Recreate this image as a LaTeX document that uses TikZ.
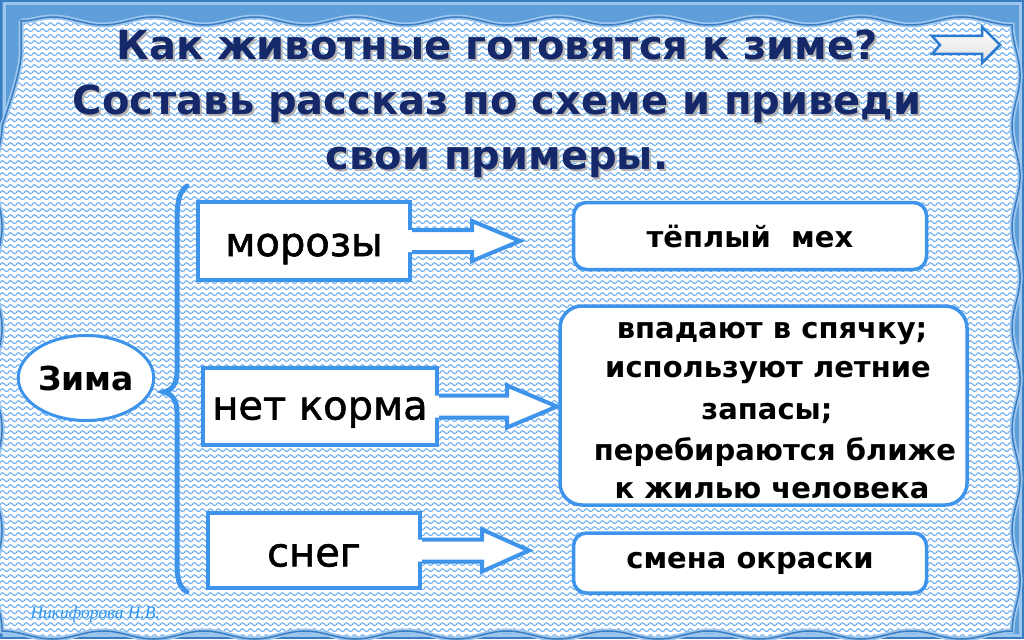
\documentclass[tikz,border=0pt]{standalone}
\usepackage{fontspec}
\setmainfont{DejaVu Sans}
\newfontfamily\sigfont{Liberation Serif}
\usetikzlibrary{patterns,decorations.pathmorphing,shapes.geometric,calc}
\definecolor{frameblue}{HTML}{5E9FDA}
\definecolor{frameedge}{HTML}{3A7DC2}
\definecolor{framelight}{HTML}{9CC6EE}
\definecolor{boxblue}{HTML}{3E93EA}
\definecolor{titlenavy}{HTML}{15296A}
\definecolor{patblue}{HTML}{5AA5F0}
\definecolor{sigblue}{HTML}{2E95F0}
\definecolor{arrowedge}{HTML}{2B7BD0}
\pgfdeclarepatternformonly{scallops}{\pgfpoint{-1pt}{-1pt}}{\pgfpoint{9pt}{7pt}}{\pgfpoint{8pt}{6pt}}{%
  \pgfsetlinewidth{0.9pt}%
  \pgfpathmoveto{\pgfpoint{0pt}{2pt}}%
  \pgfpathcurveto{\pgfpoint{1.5pt}{5pt}}{\pgfpoint{3.5pt}{5pt}}{\pgfpoint{4.5pt}{3pt}}%
  \pgfpathcurveto{\pgfpoint{5.5pt}{1pt}}{\pgfpoint{7pt}{1pt}}{\pgfpoint{8pt}{2pt}}%
  \pgfusepath{stroke}}
\newcommand\lowered[2]{\raisebox{-#1}[\height][\depth]{#2}}
\tikzset{
  wavy/.style={decorate,decoration={snake,segment length=101,amplitude=4}},
  lbox/.style={draw=boxblue,line width=4,fill=white,inner sep=0pt,font=\fontsize{40}{48}\selectfont\addfontfeature{FakeBold=1.5}},
  rtext/.style={font=\bfseries\fontsize{29}{40}\selectfont},
  rbox/.style={draw=boxblue,line width=3.5,fill=white,rounded corners=13,inner sep=0pt,rtext},
  arrowfill/.style={fill=white},
  arrowline/.style={draw=boxblue,line width=4,line join=miter},
  brace/.style={draw=boxblue,line width=5,line cap=round},
  titletext/.style={font=\bfseries\fontsize{40}{55}\selectfont,align=center},
}
\begin{document}
\begin{tikzpicture}[x=1pt,y=-1pt]
\useasboundingbox (0,0) rectangle (1024,639);
% frame
\fill[frameblue] (0,0) rectangle (1024,639);
\draw[framelight,line width=3] (4,4) rectangle (1020,635);
\draw[frameedge,line width=1.5] (1,1) rectangle (1023,638);
\fill[white,wavy] (21,21) -- (1004,21) -- (1004,620) -- (21,620) -- cycle;
\fill[wavy,pattern=scallops,pattern color=patblue] (21,21) -- (1004,21) -- (1004,620) -- (21,620) -- cycle;
\draw[wavy,framelight,line width=5] (21,21) -- (1004,21) -- (1004,620) -- (21,620) -- cycle;
\draw[wavy,frameedge,line width=1.5] (21,21) -- (1004,21) -- (1004,620) -- (21,620) -- cycle;
% title
\node[titletext,text=gray!60] at (499,106) {Как животные готовятся к зиме?\\Составь рассказ по схеме и приведи\\свои примеры.};
\node[titletext,text=titlenavy] (title) at (497,104) {Как животные готовятся к зиме?\\Составь рассказ по схеме и приведи\\свои примеры.};
% next arrow icon
\filldraw[arrowedge,line width=2.5,line join=miter,top color=white,bottom color=gray!25]
  (932,36) -- (982,36) -- (982,27) -- (1000,45) -- (982,63) -- (982,54) -- (932,54) -- (940,45) -- cycle;
% Zima
\node[ellipse,draw=boxblue,line width=3,fill=white,minimum width=125,minimum height=85,inner sep=0pt,font=\bfseries\fontsize{33}{38}\selectfont] (zima) at (86,378) {Зима};
% brace
\draw[brace] (187,186) .. controls (178,192) and (177,205) .. (177,225) -- (177,372) .. controls (177,384) and (172,390) .. (164,392)
  .. controls (172,394) and (177,400) .. (177,412) -- (177,565) .. controls (177,580) and (180,588) .. (187,592);
% left boxes
\node[lbox,minimum width=212,minimum height=78] (moroz) at (304,241) {\lowered{8pt}{морозы}};
\node[lbox,minimum width=234,minimum height=77] (korm) at (320,406.5) {\lowered{6pt}{нет корма}};
\node[lbox,minimum width=212,minimum height=75] (sneg) at (314,550.5) {\lowered{5pt}{снег}};
% arrows attached to left boxes
\fill[arrowfill] ($(moroz.east)+(-6,-11)$) -- ++(66,0) -- ++(0,-9) -- ($(moroz.east)+(108,0)$) -- ($(moroz.east)+(60,20)$) -- ++(0,-9) -- ++(-66,0) -- cycle;
\draw[arrowline] ($(moroz.east)+(0,-11)$) -- ++(60,0) -- ++(0,-9) -- ($(moroz.east)+(108,0)$) -- ($(moroz.east)+(60,20)$) -- ++(0,-9) -- ++(-60,0);
\fill[arrowfill] ($(korm.east)+(-6,-11)$) -- ++(74,0) -- ++(0,-10) -- ($(korm.east)+(118,0)$) -- ($(korm.east)+(68,21)$) -- ++(0,-10) -- ++(-74,0) -- cycle;
\draw[arrowline] ($(korm.east)+(0,-11)$) -- ++(68,0) -- ++(0,-10) -- ($(korm.east)+(118,0)$) -- ($(korm.east)+(68,21)$) -- ++(0,-10) -- ++(-68,0);
\fill[arrowfill] ($(sneg.east)+(-6,-11)$) -- ++(66,0) -- ++(0,-10) -- ($(sneg.east)+(107,0)$) -- ($(sneg.east)+(60,21)$) -- ++(0,-10) -- ++(-66,0) -- cycle;
\draw[arrowline] ($(sneg.east)+(0,-11)$) -- ++(60,0) -- ++(0,-10) -- ($(sneg.east)+(107,0)$) -- ($(sneg.east)+(60,21)$) -- ++(0,-10) -- ++(-60,0);
% right boxes
\node[rbox,minimum width=353,minimum height=67] (mex) at (750,236) {тёплый\hspace{0.7em}мех};
\node[rbox,rounded corners=22,minimum width=407,minimum height=199] (spyachka) at (763.5,405.5) {};
\node[rtext,anchor=base] at (772,338) {впадают в спячку;};
\node[rtext,anchor=base] at (768,377) {используют летние};
\node[rtext,anchor=base] at (767,419) {запасы;};
\node[rtext,anchor=base] at (775,460) {перебираются ближе};
\node[rtext,anchor=base] at (772,498) {к жилью человека};
\node[rbox,minimum width=353,minimum height=60] (okras) at (750,563) {смена окраски};
% signature
\node[font=\sigfont\itshape\fontsize{17.5}{20}\selectfont,text=sigblue,anchor=base west] (sig) at (27,618) {Никифорова Н.В.};
\end{tikzpicture}
\end{document}
